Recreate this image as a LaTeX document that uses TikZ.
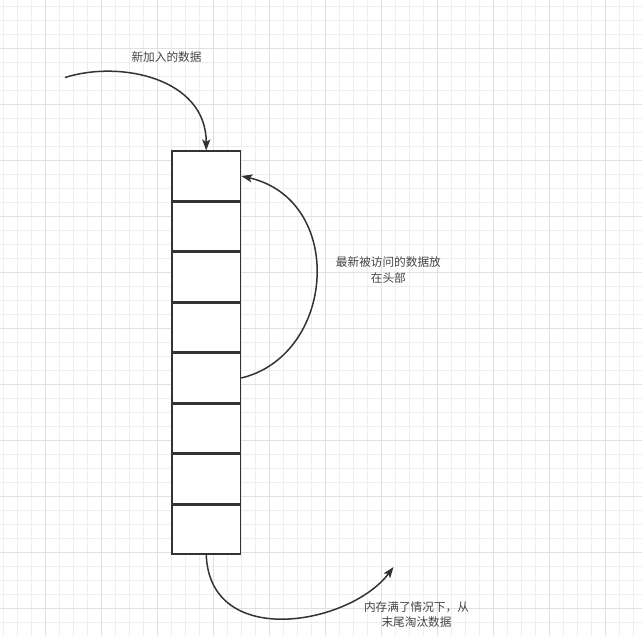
\documentclass[tikz,border=0pt]{standalone}
\usepackage{fontspec}
\newfontfamily\cjk{Noto Sans CJK SC}
\usetikzlibrary{arrows.meta}
\definecolor{minorgrid}{HTML}{EEEEEE}
\definecolor{majorgrid}{HTML}{E0E0E0}
\definecolor{ink}{HTML}{333333}
\definecolor{txt}{HTML}{444444}
\tikzset{
  cell/.style={draw=ink, line width=1.6bp, fill=white, minimum width=68.5bp, minimum height=49.4bp, inner sep=0pt},
  arr/.style={draw=ink, line width=1.5bp, -{Stealth[length=11bp, width=8bp, inset=2.5bp]}},
  lbl/.style={text=txt, font=\cjk\fontsize{11.7}{15.5}\selectfont, align=center, inner sep=0pt},
}
\begin{document}
\begin{tikzpicture}[x=1bp, y=-1bp]
\useasboundingbox (0,0) rectangle (642,636);
\fill[white] (0,0) rectangle (642,636);
% grid
\foreach \k in {0,...,45} {
  \draw[minorgrid, line width=1bp] ({3.5+14*\k},0) -- ({3.5+14*\k},636);
}
\foreach \k in {0,...,44} {
  \draw[minorgrid, line width=1bp] (0,{6.3+14*\k}) -- (642,{6.3+14*\k});
}
\foreach \k in {0,...,10} {
  \draw[majorgrid, line width=1bp] ({45.5+56*\k},0) -- ({45.5+56*\k},636);
  \draw[majorgrid, line width=1bp] (0,{48.3+56*\k}) -- (642,{48.3+56*\k});
}
% boxes
\foreach \i in {1,...,8} {
  \node[cell] (b\i) at (206.25, {176+50.5*(\i-1)}) {};
}
% labels
\node[lbl] (t1) at (166.5,57) {新加入的数据};
\node[lbl] (t2) at (388.4,270) {最新被访问的数据放\\在头部};
\node[lbl] (t3) at (416.5,614.5) {内存满了情况下，从\\末尾淘汰数据};
% connectors
\coordinate (s1) at (65,77.5);
\coordinate (e3) at (393.5,567);
\draw[arr] (s1) .. controls (120,60) and (206.25,78) .. (b1.north);
\draw[arr] (b5.east) .. controls (336,355) and (346,200) .. (b1.east);
\draw[arr] (b8.south) .. controls (210,650) and (350,625) .. (e3);
\end{tikzpicture}
\end{document}
